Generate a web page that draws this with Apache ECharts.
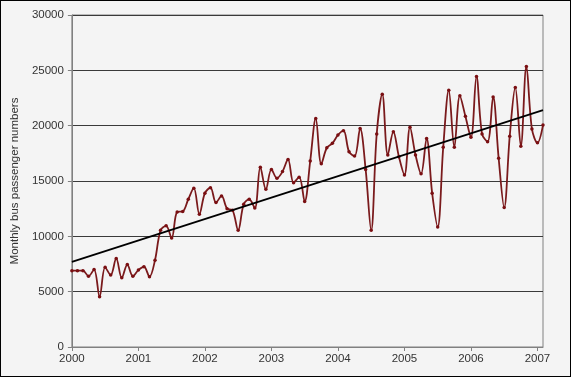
<!DOCTYPE html>
<html>
<head>
<meta charset="utf-8">
<script src="https://cdn.jsdelivr.net/npm/echarts@6/dist/echarts.min.js"></script>
<style>
  html, body { margin: 0; padding: 0; background: #fff; }
  #chart { width: 571px; height: 377px; box-sizing: border-box; border: 1px solid #000; background: #f4f4f4; }
</style>
</head>
<body>
<div id="chart"></div>
<script>
// monthly values, Jan 2000 .. Feb 2007
const y2000 = [6900, 6900, 6900, 6400, 7000, 4550, 7200, 6500, 8000, 6250, 7450, 6400];
const y2001 = [6950, 7250, 6350, 7850, 10550, 10950, 9850, 12200, 12250, 13350, 14350, 12000];
const y2002 = [13900, 14400, 13050, 13650, 12500, 12350, 10550, 12900, 13350, 12550, 16250, 14250];
const y2003 = [16050, 15250, 15850, 16950, 14850, 15350, 13150, 16800, 20650, 16550, 18000, 18400];
const y2004 = [19150, 19550, 17650, 17250, 19750, 16050, 10550, 19250, 22850, 17350, 19450, 17200];
const y2005 = [15550, 19850, 17350, 15650, 18850, 13900, 10850, 18050, 23200, 18050, 22700, 20850];
const y2006 = [18950, 24450, 19250, 18550, 22600, 17050, 12600, 19050, 23450, 18150, 25350, 19700];
const y2007 = [18450, 20050];
const startYear = 2000;

// trend line end points
const trendX = [2000, 2007 + 1 / 12];
const trendY = [7700, 21400];

const monthly = [...y2000, ...y2001, ...y2002, ...y2003, ...y2004, ...y2005, ...y2006, ...y2007];
const seriesData = monthly.map((v, i) => [startYear + i / 12, v]);

const chart = echarts.init(document.getElementById('chart'), undefined, { renderer: 'canvas' });
const font = 'Liberation Sans, Arial, sans-serif';

chart.setOption({
  animation: false,
  backgroundColor: '#f4f4f4',
  grid: { left: 68, right: 27, top: 14, bottom: 29, show: true, borderColor: '#808080', borderWidth: 1, backgroundColor: 'transparent' },
  xAxis: {
    type: 'value',
    min: 2000,
    max: 2007 + 1 / 12,
    interval: 1,
    splitLine: { show: false },
    axisLine: { lineStyle: { color: '#808080', width: 1 } },
    axisTick: { length: 4, lineStyle: { color: '#808080' } },
    axisLabel: {
      color: '#333',
      fontFamily: font,
      fontSize: 11.5,
      margin: 6,
      showMaxLabel: false,
      formatter: v => (Number.isInteger(v) ? String(v) : '')
    }
  },
  yAxis: {
    type: 'value',
    min: 0,
    max: 30000,
    interval: 5000,
    name: 'Monthly bus passenger numbers',
    nameLocation: 'center',
    nameGap: 50,
    nameTextStyle: { color: '#333', fontFamily: font, fontSize: 11.5 },
    axisLine: { show: true, lineStyle: { color: '#808080', width: 1 } },
    axisTick: { show: true, length: 4, lineStyle: { color: '#808080' } },
    axisLabel: { color: '#333', fontFamily: font, fontSize: 11.5, margin: 8, formatter: v => String(v) },
    splitLine: { lineStyle: { color: '#3a3a3a', width: 1 } }
  },
  series: [
    {
      type: 'line',
      data: seriesData,
      smooth: 0.35,
      symbol: 'circle',
      symbolSize: 3.5,
      itemStyle: { color: '#7a0f12' },
      lineStyle: { color: '#7a1a1c', width: 1.8 },
      z: 2
    },
    {
      type: 'line',
      data: trendX.map((x, i) => [x, trendY[i]]),
      symbol: 'none',
      lineStyle: { color: '#000', width: 1.8 },
      z: 3
    }
  ]
});
</script>
</body>
</html>
